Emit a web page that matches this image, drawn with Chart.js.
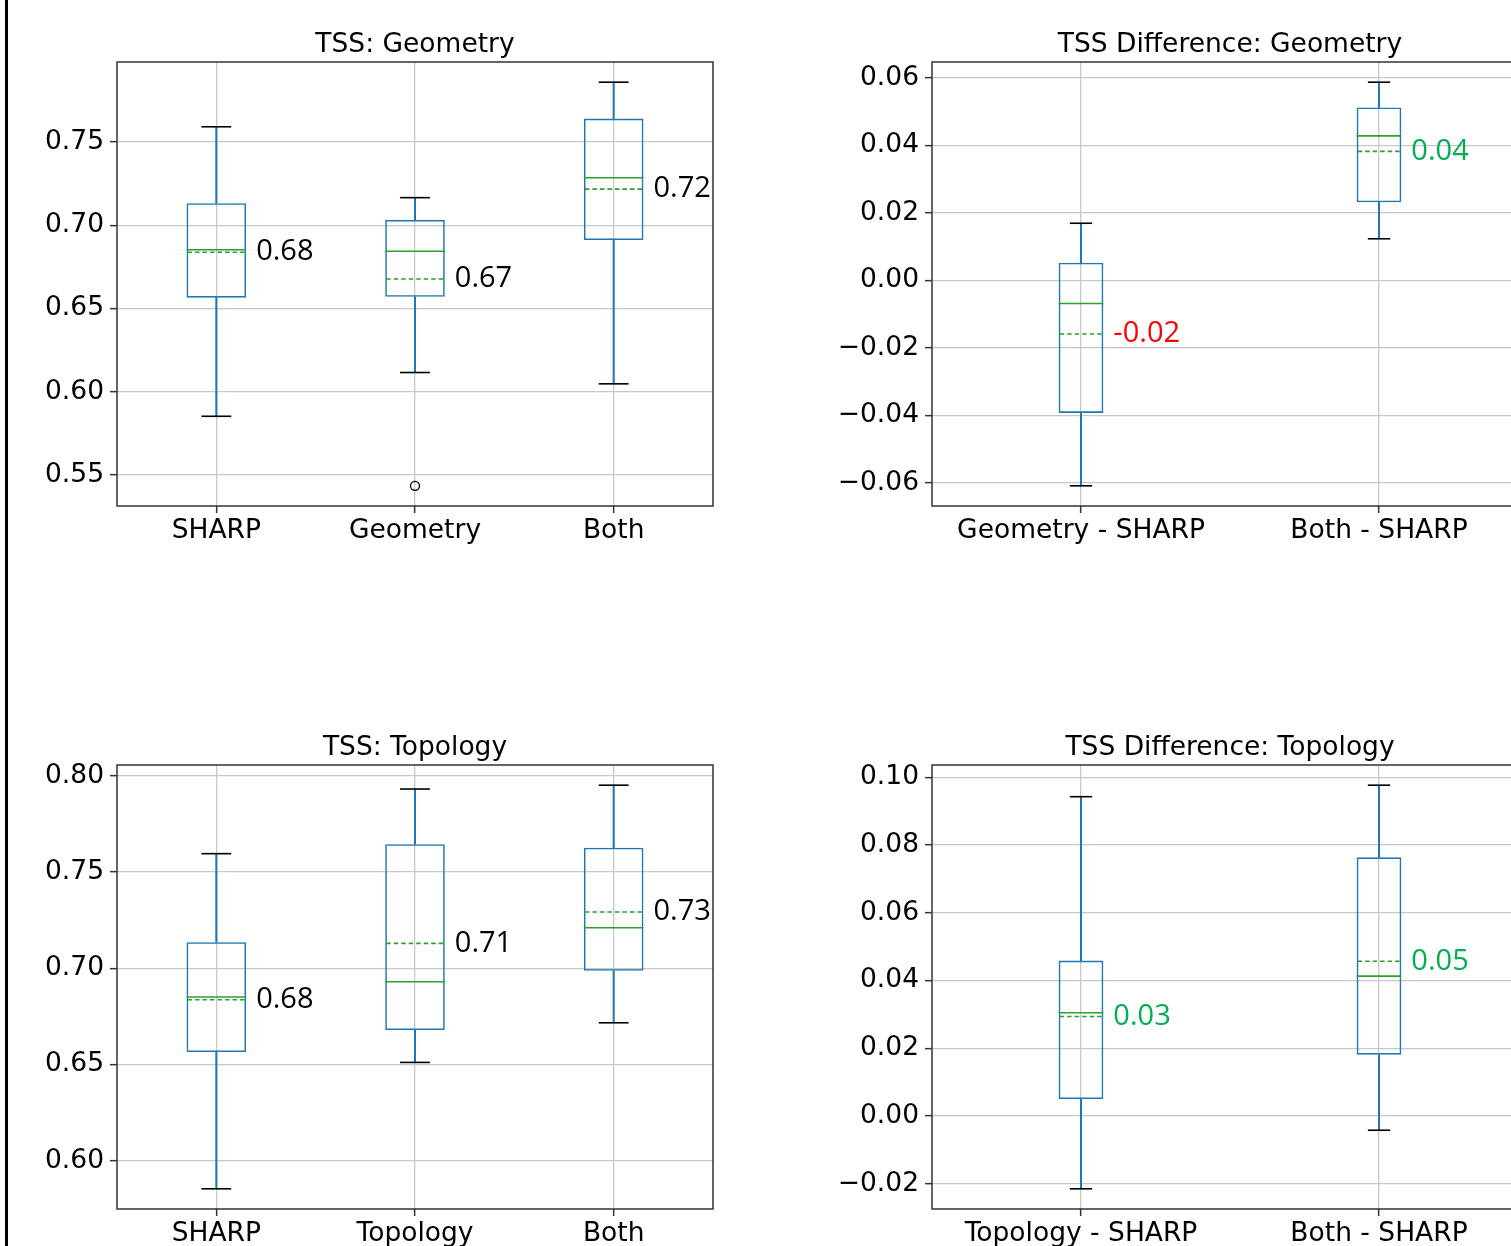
<!DOCTYPE html>
<html lang="en">
<head>
    <meta charset="UTF-8">
    <title>TSS box plots</title>
    <script src="https://cdn.jsdelivr.net/npm/chart.js@4.4.1/dist/chart.umd.min.js"></script>
    <style>
        html, body { margin: 0; padding: 0; background: #fff; overflow: hidden; }
        body { width: 1511px; height: 1246px; position: relative; }
        canvas { position: absolute; }
        .edge { position: absolute; left: 5px; top: 0; width: 3px; height: 1246px; background: #000; z-index: 2; }
    </style>
</head>
<body>
    <div class="edge"></div>
    <canvas id="geo" width="730" height="560" style="left:0;top:0"></canvas>
    <canvas id="geoDiff" width="730" height="560" style="left:815px;top:0"></canvas>
    <canvas id="topo" width="730" height="560" style="left:0;top:703px"></canvas>
    <canvas id="topoDiff" width="730" height="560" style="left:815px;top:703px"></canvas>

    <script>
        // TSS: Geometry
        const geoCats = ['SHARP', 'Geometry', 'Both'];
        const geoMin = [0.5852, 0.6115, 0.6047];
        const geoQ1 = [0.6565, 0.6570, 0.6911];
        const geoMed = [0.6853, 0.6844, 0.7286];
        const geoMean = [0.6838, 0.6677, 0.7217];
        const geoQ3 = [0.7133, 0.7033, 0.7641];
        const geoMax = [0.7592, 0.7166, 0.7860];
        const geoOut = [[], [0.5434], []];
        const geoLabels = ['0.68', '0.67', '0.72'];
        const geoTicks = [0.55, 0.60, 0.65, 0.70, 0.75];

        // TSS Difference: Geometry
        const geoDiffCats = ['Geometry - SHARP', 'Both - SHARP'];
        const geoDiffMin = [-0.0609, 0.0123];
        const geoDiffQ1 = [-0.0393, 0.0231];
        const geoDiffMed = [-0.0069, 0.0428];
        const geoDiffMean = [-0.0159, 0.0382];
        const geoDiffQ3 = [0.0052, 0.0512];
        const geoDiffMax = [0.0169, 0.0587];
        const geoDiffLabels = ['-0.02', '0.04'];
        const geoDiffTicks = [-0.06, -0.04, -0.02, 0, 0.02, 0.04, 0.06];

        // TSS: Topology
        const topoCats = ['SHARP', 'Topology', 'Both'];
        const topoMin = [0.5854, 0.6511, 0.6717];
        const topoQ1 = [0.6565, 0.6679, 0.6987];
        const topoMed = [0.6851, 0.6930, 0.7211];
        const topoMean = [0.6837, 0.7130, 0.7293];
        const topoQ3 = [0.7136, 0.7645, 0.7627];
        const topoMax = [0.7596, 0.7932, 0.7952];
        const topoLabels = ['0.68', '0.71', '0.73'];
        const topoTicks = [0.60, 0.65, 0.70, 0.75, 0.80];

        // TSS Difference: Topology
        const topoDiffCats = ['Topology - SHARP', 'Both - SHARP'];
        const topoDiffMin = [-0.0215, -0.0042];
        const topoDiffQ1 = [0.0050, 0.0181];
        const topoDiffMed = [0.0305, 0.0413];
        const topoDiffMean = [0.0294, 0.0457];
        const topoDiffQ3 = [0.0459, 0.0764];
        const topoDiffMax = [0.0943, 0.0977];
        const topoDiffLabels = ['0.03', '0.05'];
        const topoDiffTicks = [-0.02, 0, 0.02, 0.04, 0.06, 0.08, 0.10];

        const BLUE = '#1f77b4';
        const GREEN = '#2ca02c';
        const GRID = '#c8c8c8';
        const SPINE = '#333333';
        const TICK_FONT = { family: 'DejaVu Sans', size: 26.5 };

        function fmtTick(v) {
            const s = Math.abs(v) < 1e-9 ? '0.00' : v.toFixed(2);
            return s.replace('-', '\u2212');
        }

        // median, mean, caps and the value labels, placed with the chart scales
        const boxMarks = {
            id: 'boxMarks',
            afterDatasetsDraw(chart, args, o) {
                const ctx = chart.ctx;
                const y = chart.scales.y;
                const boxes = chart.getDatasetMeta(2).data;
                ctx.save();
                boxes.forEach((bar, i) => {
                    const half = bar.width / 2;
                    const x0 = bar.x - half, x1 = bar.x + half;
                    // median
                    ctx.strokeStyle = GREEN;
                    ctx.lineWidth = 1.6;
                    ctx.setLineDash([]);
                    ctx.beginPath();
                    ctx.moveTo(x0, y.getPixelForValue(o.med[i]));
                    ctx.lineTo(x1, y.getPixelForValue(o.med[i]));
                    ctx.stroke();
                    // mean
                    ctx.setLineDash([4.5, 3]);
                    ctx.beginPath();
                    ctx.moveTo(x0 + 1, y.getPixelForValue(o.mean[i]));
                    ctx.lineTo(x1 - 1, y.getPixelForValue(o.mean[i]));
                    ctx.stroke();
                    ctx.setLineDash([]);
                    // caps
                    ctx.strokeStyle = '#000';
                    [o.min[i], o.max[i]].forEach(v => {
                        ctx.beginPath();
                        ctx.moveTo(bar.x - half / 2, y.getPixelForValue(v));
                        ctx.lineTo(bar.x + half / 2, y.getPixelForValue(v));
                        ctx.stroke();
                    });
                    // label
                    ctx.fillStyle = o.colors[i];
                    ctx.font = '29px "Open Sans"';
                    ctx.textBaseline = 'middle';
                    ctx.textAlign = 'left';
                    ctx.fillText(o.labels[i], x1 + 10, y.getPixelForValue(o.mean[i]));
                });
                ctx.restore();
            },
            afterDraw(chart) {
                const a = chart.chartArea, ctx = chart.ctx;
                ctx.save();
                ctx.strokeStyle = SPINE;
                ctx.lineWidth = 1.5;
                ctx.strokeRect(a.left, a.top, a.right - a.left, a.bottom - a.top);
                ctx.restore();
            }
        };

        function makePanel(id, title, cats, min, q1, med, mean, q3, max, outliers, labels, colors, ticks, widthFrac) {
            const all = min.concat(max, outliers.flat());
            const lo = Math.min(...all), hi = Math.max(...all);
            const pad = (hi - lo) * 0.05;

            const outPts = [];
            outliers.forEach((list, i) => list.forEach(v => outPts.push({ x: cats[i], y: v })));

            new Chart(document.getElementById(id), {
                type: 'bar',
                data: {
                    labels: cats,
                    datasets: [
                        {   // upper whisker
                            data: q3.map((v, i) => [v, max[i]]),
                            backgroundColor: BLUE, borderWidth: 0,
                            barThickness: 1.4, grouped: false
                        },
                        {   // lower whisker
                            data: min.map((v, i) => [v, q1[i]]),
                            backgroundColor: BLUE, borderWidth: 0,
                            barThickness: 1.4, grouped: false
                        },
                        {   // box
                            data: q1.map((v, i) => [v, q3[i]]),
                            backgroundColor: 'rgba(0,0,0,0)',
                            borderColor: BLUE, borderWidth: 1.6, borderSkipped: false,
                            barPercentage: widthFrac, categoryPercentage: 1, grouped: false
                        },
                        {   // fliers
                            type: 'line',
                            data: outPts,
                            showLine: false,
                            pointRadius: 4.5,
                            pointBorderWidth: 1.3,
                            pointBorderColor: '#000',
                            pointBackgroundColor: 'rgba(0,0,0,0)'
                        }
                    ]
                },
                options: {
                    responsive: false,
                    animation: false,
                    devicePixelRatio: 1,
                    layout: { padding: { left: 0, right: 17, top: 0, bottom: 0 } },
                    plugins: {
                        legend: { display: false },
                        tooltip: { enabled: false },
                        title: {
                            display: true, text: title, color: '#000', fullSize: false,
                            font: { family: 'DejaVu Sans', size: 26.5, weight: 'normal' },
                            padding: { top: 29, bottom: 1.2 }
                        },
                        boxMarks: { min, med, mean, max, labels, colors }
                    },
                    scales: {
                        x: {
                            type: 'category',
                            offset: true,
                            grid: { offset: false, color: GRID, lineWidth: 1.3, tickLength: 7, tickColor: SPINE, tickWidth: 1.5 },
                            border: { display: false },
                            ticks: { color: '#000', font: TICK_FONT, padding: 2, maxRotation: 0, autoSkip: false },
                            afterFit: s => { s.height = 54; }
                        },
                        y: {
                            type: 'linear',
                            min: lo - pad,
                            max: hi + pad,
                            afterBuildTicks: s => { s.ticks = ticks.map(v => ({ value: v })); },
                            grid: { color: GRID, lineWidth: 1.3, tickLength: 7, tickColor: SPINE, tickWidth: 1.5 },
                            border: { display: false },
                            ticks: { color: '#000', font: TICK_FONT, padding: 6, callback: v => fmtTick(v) },
                            afterFit: s => { s.width = 117; }
                        }
                    }
                },
                plugins: [boxMarks]
            });
        }

        const diffColor = list => list.map(t => t.startsWith('-') ? '#ff0000' : '#00b050');

        makePanel('geo', 'TSS: Geometry', geoCats, geoMin, geoQ1, geoMed, geoMean, geoQ3, geoMax,
            geoOut, geoLabels, geoLabels.map(() => '#000'), geoTicks, 0.3);
        makePanel('geoDiff', 'TSS Difference: Geometry', geoDiffCats, geoDiffMin, geoDiffQ1, geoDiffMed, geoDiffMean,
            geoDiffQ3, geoDiffMax, [[], []], geoDiffLabels, diffColor(geoDiffLabels), geoDiffTicks, 0.15);
        makePanel('topo', 'TSS: Topology', topoCats, topoMin, topoQ1, topoMed, topoMean, topoQ3, topoMax,
            [[], [], []], topoLabels, topoLabels.map(() => '#000'), topoTicks, 0.3);
        makePanel('topoDiff', 'TSS Difference: Topology', topoDiffCats, topoDiffMin, topoDiffQ1, topoDiffMed, topoDiffMean,
            topoDiffQ3, topoDiffMax, [[], []], topoDiffLabels, diffColor(topoDiffLabels), topoDiffTicks, 0.15);
    </script>
</body>
</html>
